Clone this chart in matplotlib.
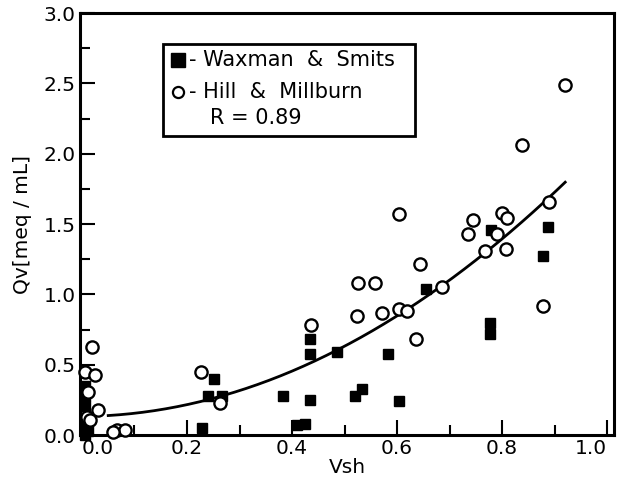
import matplotlib
matplotlib.use("Agg")
import matplotlib.pyplot as plt
from matplotlib.patches import Rectangle
import numpy as np

# Waxman & Smits (filled squares)
ws_vsh = [0.006, 0.006, 0.006, 0.006, 0.008, 0.012, 0.006,
          0.229, 0.251, 0.240, 0.267, 0.383, 0.434, 0.410, 0.425,
          0.434, 0.434, 0.486, 0.583, 0.520, 0.533, 0.604, 0.655,
          0.779, 0.777, 0.777, 0.888, 0.878]
ws_qv = [0.35, 0.28, 0.21, 0.12, 0.05, 0.03, 0.0,
         0.05, 0.40, 0.28, 0.28, 0.28, 0.25, 0.07, 0.08,
         0.68, 0.58, 0.59, 0.58, 0.28, 0.33, 0.24, 1.04,
         1.46, 0.80, 0.72, 1.48, 1.27]

# Hill & Millburn (open circles)
hm_vsh = [0.019, 0.006, 0.025, 0.011, 0.030, 0.010, 0.015, 0.067, 0.082, 0.060,
          0.227, 0.263, 0.436, 0.526, 0.558, 0.524, 0.571, 0.604, 0.619, 0.636,
          0.644, 0.604, 0.686, 0.735, 0.745, 0.768, 0.790, 0.800, 0.810, 0.808,
          0.920, 0.838, 0.890, 0.878]
hm_qv = [0.63, 0.45, 0.43, 0.31, 0.18, 0.13, 0.11, 0.04, 0.04, 0.02,
         0.45, 0.23, 0.78, 1.08, 1.08, 0.85, 0.87, 0.90, 0.88, 0.68,
         1.22, 1.57, 1.05, 1.43, 1.53, 1.31, 1.43, 1.58, 1.54, 1.32,
         2.49, 2.06, 1.66, 0.92]

# fitted trend  Qv = c0 + c1*Vsh + c2*Vsh^2
fit_coef = [0.133, 0.034, 1.93]
fit_range = (0.05, 0.92)

xticks = [0.0, 0.2, 0.4, 0.6, 0.8, 1.0]
yticks = [0.0, 0.5, 1.0, 1.5, 2.0, 2.5, 3.0]

fig = plt.figure(figsize=(6.19, 4.83), dpi=100)
ax = fig.add_axes([0.129, 0.099, 0.863, 0.874])

xf = np.linspace(fit_range[0], fit_range[1], 200)
yf = fit_coef[0] + fit_coef[1] * xf + fit_coef[2] * xf ** 2
ax.plot(xf, yf, color='black', linewidth=2, zorder=2)

ax.plot(ws_vsh, ws_qv, 's', color='black', markersize=7, zorder=3, clip_on=False)
ax.plot(hm_vsh, hm_qv, 'o', markerfacecolor='white', markeredgecolor='black',
        markeredgewidth=1.7, markersize=8.8, zorder=4, clip_on=False)

ax.set_xlim(-0.004, 1.013)
ax.set_ylim(0, 3.0)
ax.set_xticks(xticks)
ax.set_xticks([0.1, 0.3, 0.5, 0.7, 0.9], minor=True)
ax.set_yticks(yticks)
ax.set_yticks(np.arange(0.25, 3.0, 0.5), minor=True)
ax.set_xticklabels(['%.1f' % v for v in xticks])
ax.set_yticklabels(['%.1f' % v for v in yticks])

ax.tick_params(which='major', direction='in', length=11, width=1.5,
               labelsize=14.5, pad=3)
ax.tick_params(which='minor', direction='in', length=7, width=1.5)
xl = ax.get_xticklabels()
xl[0].set_horizontalalignment('left')
xl[-1].set_horizontalalignment('right')
for s in ax.spines.values():
    s.set_linewidth(2.2)

ax.set_xlabel('Vsh', fontsize=14.5, labelpad=0)
ax.set_ylabel('Qv[meq / mL]', fontsize=14.5, labelpad=8)

# legend box drawn by hand
ax.add_patch(Rectangle((0.155, 0.709), 0.472, 0.218, transform=ax.transAxes,
                       facecolor='white', edgecolor='black', linewidth=2, zorder=5))
ax.plot([0.183], [0.889], 's', color='black', markersize=10,
        transform=ax.transAxes, zorder=6)
ax.text(0.204, 0.889, '- Waxman  &  Smits', transform=ax.transAxes,
        fontsize=15, va='center', zorder=6)
ax.plot([0.184], [0.813], 'o', markerfacecolor='white', markeredgecolor='black',
        markeredgewidth=1.6, markersize=8, transform=ax.transAxes, zorder=6)
ax.text(0.204, 0.813, '- Hill  &  Millburn', transform=ax.transAxes,
        fontsize=15, va='center', zorder=6)
ax.text(0.243, 0.751, 'R = 0.89', transform=ax.transAxes,
        fontsize=15, va='center', zorder=6)

fig.savefig('out.png', dpi=100)
